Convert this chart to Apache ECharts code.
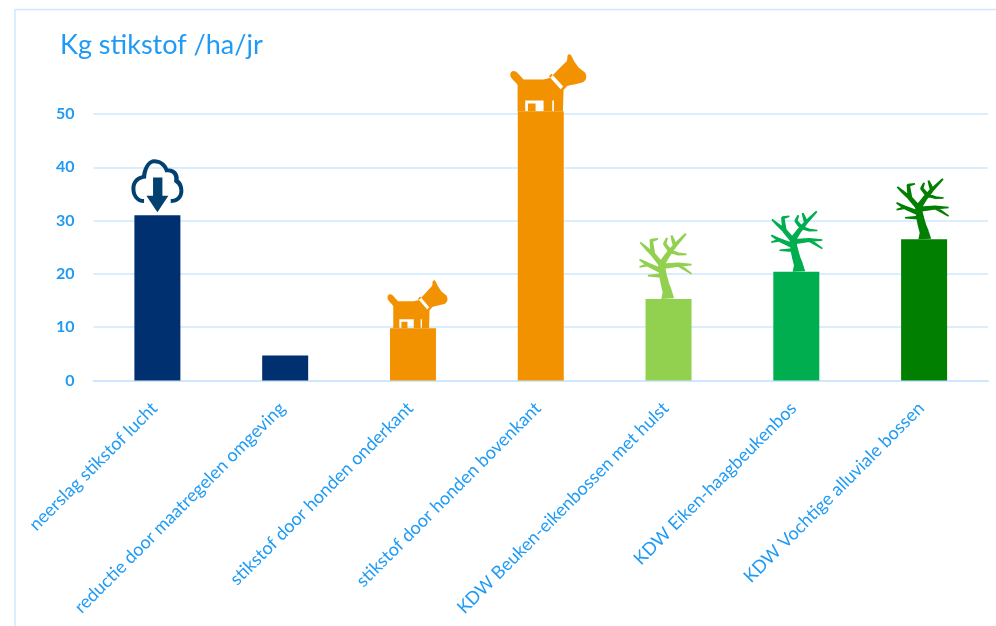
<!DOCTYPE html>
<html><head><meta charset="utf-8">
<style>html,body{margin:0;padding:0;background:#fff}#c{width:996px;height:626px}</style>
<script src="https://cdn.jsdelivr.net/npm/echarts@6/dist/echarts.min.js"></script>
</head><body><div id="c"></div>
<script>
const titleText = 'Kg stikstof /ha/jr';
const categories = ['neerslag stikstof lucht','reductie door maatregelen omgeving','stikstof door honden onderkant','stikstof door honden bovenkant','KDW Beuken-eikenbossen met hulst','KDW Eiken-haagbeukenbos','KDW Vochtige alluviale bossen'];
const values = [31, 4.7, 9.8, 50.5, 15.3, 20.4, 26.5];
const barColors = ['#003070','#003070','#f29200','#f29200','#92d050','#00ae4f','#007f00'];
const iconKinds = ['cloud', null, 'dogSmall', 'dogBig', 'treeLight', 'treeMid', 'treeDark'];
const textColor = '#1f9bf5', lineColor = '#cde8ff';

const cloudPath = 'path://M38,132C15,132 0,112 0,88C0,68 12,52 32,48C36,20 52,0 68,0C88,0 104,12 110,28C130,26 144,42 142,62C150,68 156,80 156,95C156,118 140,132 118,132L118,120C135,120 144,110 144,95C144,82 138,76 128,68C132,48 122,36 102,40C96,22 86,12 68,12C56,12 46,28 44,58C24,60 12,70 12,88C12,108 22,120 38,120Z' +
  'M65,55L93,55L93,110L111,110L78,160L45,110L65,110Z';
const dogPath = 'path://M0,62C0,48 14,46 22,56L40,75L100,75L120,70L150,40L170,20L172,4C176,-2 182,0 185,8L192,22L205,40L225,55C232,70 226,80 216,84L192,90L172,94L160,106L158,170L22,170L22,92C18,82 0,74 0,62Z' +
  'M124,58L116,66L151,104L159,96Z' +
  'M45,138L45,170L53,170L53,147L76,147L76,170L100,170L100,138Z' +
  'M126,138L126,170L131,170L131,138Z';
const rootPath = 'path://M30,0C30,15 10,22 0,30L12,27L22,32L32,27L42,32L52,27L62,32L72,27L87,30C70,22 52,15 52,0';

// tapered tree limbs: [x,y,width] polylines
const limbs = [
 [[86,192,38],[85,172,28],[78,150,25],[72,125,23],[67,93,19],[87,63,15],[107,38,12],[140,3,6]],
 [[107,38,11],[102,22,10],[97,8,6]],
 [[92,52,12],[77,33,10],[84,15,6]],
 [[97,55,11],[118,62,9],[142,63,5]],
 [[67,93,16],[42,63,14],[37,23,10],[57,18,5]],
 [[42,63,13],[22,45,10],[4,28,5]],
 [[70,112,16],[27,93,12],[2,78,5]],
 [[27,93,10],[2,100,5]],
 [[66,125,12],[27,125,5]],
 [[72,98,16],[117,93,12],[157,93,5]],
 [[117,93,11],[157,120,5]]
];
const f = v => v.toFixed(1);
function joint(x,y,r){
  let s='';
  for(let k=0;k<8;k++){
    const a=-k*Math.PI/4;
    s+=(k?'L':'M')+f(x+r*Math.cos(a))+','+f(y+r*Math.sin(a));
  }
  return s+'Z';
}
function limbPath(l){
  let s='';
  for(let i=0;i<l.length-1;i++){
    const [x0,y0,w0]=l[i],[x1,y1,w1]=l[i+1];
    const d=Math.hypot(x1-x0,y1-y0),nx=-(y1-y0)/d,ny=(x1-x0)/d;
    s+=`M${f(x0+nx*w0/2)},${f(y0+ny*w0/2)}L${f(x1+nx*w1/2)},${f(y1+ny*w1/2)}L${f(x1-nx*w1/2)},${f(y1-ny*w1/2)}L${f(x0-nx*w0/2)},${f(y0-ny*w0/2)}Z`;
    if(i>0) s+=joint(x0,y0,w0/2);
  }
  return s;
}
const treePath = 'path://' + limbs.map(limbPath).join('');

const icons = {
  cloud:    {symbol:cloudPath, symbolSize:[52,53], dx:0,   gap:3, color:'#02406f'},
  dogSmall: {symbol:dogPath,   symbolSize:[60,48], dx:4.5, gap:0, color:'#f29200'},
  dogBig:   {symbol:dogPath,   symbolSize:[76,57], dx:7.5, gap:0, color:'#f29200'},
  treeLight:{symbol:treePath,  symbolSize:[53,66], dx:-3,  gap:0},
  treeMid:  {symbol:treePath,  symbolSize:[52,61], dx:0.5, gap:0},
  treeDark: {symbol:treePath,  symbolSize:[53,61], dx:-1.5,gap:0}
};
const iconData = values.map((v,i)=>{
  const k=iconKinds[i]; if(!k) return {value:v,symbol:'none'};
  const c=icons[k];
  return {value:v,symbol:c.symbol,symbolSize:c.symbolSize,symbolPosition:'end',
    symbolOffset:[c.dx,-c.symbolSize[1]-c.gap],
    itemStyle:{color:c.color||barColors[i]}};
});
const rootData = values.map((v,i)=> iconKinds[i]==='treeDark'
  ? {value:v,symbol:rootPath,symbolSize:[29,10],symbolPosition:'end',symbolOffset:[0,0],
     itemStyle:{color:'transparent',borderColor:'#1f9140',borderWidth:0.8}}
  : {value:v,symbol:'none'});

const chart = echarts.init(document.getElementById('c'),null,{renderer:'canvas'});
chart.setOption({
  animation:false,
  backgroundColor:'#fff',
  textStyle:{fontFamily:'Lato'},
  title:{text:titleText,left:55,top:27,textStyle:{color:textColor,fontSize:27,fontWeight:'normal',fontFamily:'Lato'}},
  grid:{left:93.5,right:8,top:114,height:266.5,containLabel:false},
  graphic:[
    {type:'line',shape:{x1:15,y1:9.5,x2:996,y2:9.5},style:{stroke:lineColor,lineWidth:1.5},silent:true},
    {type:'line',shape:{x1:15,y1:9,x2:15,y2:626},style:{stroke:lineColor,lineWidth:1.5},silent:true}
  ],
  xAxis:{type:'category',data:categories,
    axisTick:{show:false},
    axisLine:{lineStyle:{color:lineColor,width:2}},
    axisLabel:{rotate:45,interval:0,margin:22,padding:[0,4,0,0],color:textColor,fontSize:18,fontFamily:'Lato'}},
  yAxis:{type:'value',min:0,max:50,interval:10,
    axisLine:{show:false},axisTick:{show:false},
    splitLine:{lineStyle:{color:lineColor,width:1.5}},
    axisLabel:{margin:19,color:textColor,fontSize:16,fontWeight:'bold',fontFamily:'Lato'}},
  series:[
    {type:'bar',barWidth:46,clip:false,data:values.map((v,i)=>({value:v,itemStyle:{color:barColors[i]}})),z:2},
    {type:'pictorialBar',data:iconData,barWidth:46,barGap:'-100%',z:3},
    {type:'pictorialBar',data:rootData,barWidth:46,barGap:'-100%',z:4}
  ]
});
</script></body></html>
